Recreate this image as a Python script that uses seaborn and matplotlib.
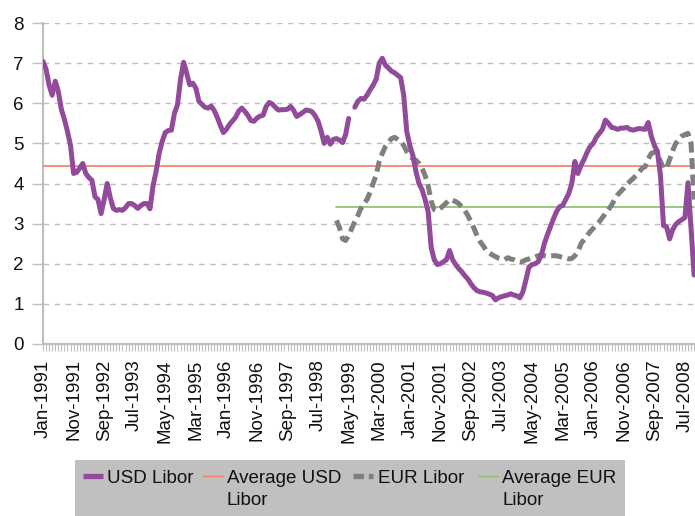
import numpy as np
import pandas as pd
import matplotlib
matplotlib.use("Agg")
import matplotlib.pyplot as plt
from matplotlib.lines import Line2D
from matplotlib.patches import Rectangle
import seaborn as sns

nan = np.nan

# Monthly values, Jan-1991 .. Oct-2008
usd_libor = [
    # 1991
    7.04, 6.85, 6.45, 6.20, 6.55, 6.30, 5.85, 5.60, 5.30, 4.95, 4.25, 4.28,
    # 1992
    4.38, 4.50, 4.25, 4.15, 4.08, 3.67, 3.60, 3.25, 3.60, 4.00, 3.65, 3.38,
    # 1993
    3.33, 3.35, 3.33, 3.40, 3.50, 3.50, 3.45, 3.38, 3.45, 3.50, 3.50, 3.37,
    # 1994
    3.95, 4.30, 4.75, 5.05, 5.27, 5.32, 5.33, 5.75, 5.96, 6.60, 7.02, 6.75,
    # 1995
    6.46, 6.50, 6.38, 6.05, 5.97, 5.90, 5.88, 5.93, 5.82, 5.65, 5.45, 5.27,
    # 1996
    5.35, 5.47, 5.56, 5.65, 5.80, 5.88, 5.80, 5.70, 5.57, 5.55, 5.63, 5.68,
    # 1997
    5.70, 5.92, 6.02, 5.98, 5.90, 5.83, 5.84, 5.84, 5.85, 5.92, 5.82, 5.67,
    # 1998
    5.72, 5.77, 5.83, 5.82, 5.79, 5.69, 5.55, 5.30, 5.00, 5.15, 4.98, 5.10,
    # 1999
    5.12, 5.08, 5.02, 5.22, 5.62, nan, 5.90, 6.05, 6.12, 6.10, 6.20, 6.33,
    # 2000
    6.45, 6.60, 7.00, 7.12, 6.95, 6.88, 6.80, 6.76, 6.70, 6.64, 6.20, 5.30,
    # 2001
    4.95, 4.70, 4.30, 4.00, 3.85, 3.60, 3.30, 2.40, 2.10, 1.98, 2.00, 2.05,
    # 2002
    2.10, 2.33, 2.10, 1.98, 1.88, 1.80, 1.70, 1.62, 1.50, 1.40, 1.33, 1.30,
    # 2003
    1.29, 1.27, 1.24, 1.21, 1.10, 1.15, 1.18, 1.20, 1.22, 1.25, 1.22, 1.20,
    # 2004
    1.15, 1.30, 1.60, 1.92, 1.98, 2.00, 2.05, 2.20, 2.50, 2.72, 2.92, 3.12,
    # 2005
    3.30, 3.42, 3.45, 3.60, 3.75, 4.00, 4.55, 4.25, 4.45, 4.60, 4.78, 4.92,
    # 2006
    5.00, 5.15, 5.25, 5.35, 5.58, 5.50, 5.40, 5.38, 5.35, 5.38, 5.38, 5.40,
    # 2007
    5.35, 5.33, 5.35, 5.37, 5.36, 5.35, 5.52, 5.18, 4.95, 4.80, 4.20, 2.95,
    # 2008
    2.92, 2.62, 2.85, 2.98, 3.05, 3.10, 3.15, 4.02, 2.90, 1.72,
]

eur_libor = [nan] * 96 + [
    # 1999
    3.08, 2.90, 2.62, 2.58, 2.70, 2.88, 3.05, 3.20, 3.38, 3.50, 3.60, 3.78,
    # 2000
    4.00, 4.22, 4.55, 4.75, 4.92, 5.02, 5.12, 5.15, 5.10, 5.04, 4.95, 4.80,
    # 2001
    4.68, 4.62, 4.58, 4.50, 4.38, 4.20, 3.95, 3.55, 3.35, 3.32, 3.38, 3.45,
    # 2002
    3.52, 3.60, 3.58, 3.55, 3.50, 3.42, 3.33, 3.20, 3.05, 2.88, 2.70, 2.55,
    # 2003
    2.45, 2.33, 2.27, 2.22, 2.18, 2.14, 2.12, 2.10, 2.15, 2.12, 2.10, 2.06,
    # 2004
    2.04, 2.06, 2.10, 2.12, 2.15, 2.17, 2.20, 2.22, 2.20, 2.18, 2.20, 2.20,
    # 2005
    2.20, 2.18, 2.16, 2.14, 2.12, 2.13, 2.20, 2.30, 2.50, 2.60, 2.70, 2.80,
    # 2006
    2.88, 2.97, 3.05, 3.15, 3.25, 3.35, 3.46, 3.60, 3.72, 3.80, 3.88, 3.98,
    # 2007
    4.05, 4.12, 4.20, 4.28, 4.38, 4.42, 4.62, 4.75, 4.78, 4.72, 4.55, 4.38,
    # 2008
    4.38, 4.60, 4.82, 5.00, 5.10, 5.18, 5.22, 5.25, 5.00, 3.60,
]

avg_usd_value = 4.43
avg_eur_value = 3.42
eur_start_month = 96

tick_labels = ["Jan-1991", "Nov-1991", "Sep-1992", "Jul-1993", "May-1994",
               "Mar-1995", "Jan-1996", "Nov-1996", "Sep-1997", "Jul-1998",
               "May-1999", "Mar-2000", "Jan-2001", "Nov-2001", "Sep-2002",
               "Jul-2003", "May-2004", "Mar-2005", "Jan-2006", "Nov-2006",
               "Sep-2007", "Jul-2008"]
tick_step = 10

series_names = ["USD Libor", "Average USD\nLibor", "EUR Libor", "Average EUR\nLibor"]

n = len(usd_libor)
month = np.arange(n)
usd_arr = np.array(usd_libor, dtype=float)
df = pd.DataFrame({
    "month": month,
    "usd": usd_arr,
    # segment id so that a missing month leaves a gap in the line
    "usd_seg": np.cumsum(np.isnan(usd_arr)),
    "eur": eur_libor,
    "avg_usd": [avg_usd_value] * n,
    "avg_eur": [nan if m < eur_start_month else avg_eur_value for m in month],
})

c_usd = "#924A9B"
c_avg_usd = "#F47B5E"
c_eur = "#7F7F7F"
c_avg_eur = "#8CBF6A"
grid_c = "#BFBFBF"
eur_dash = (0, (2.2, 1.1))

sns.set_theme(style="white")
plt.rcParams["font.family"] = ["Liberation Sans", "DejaVu Sans"]

W, H = 695, 516
fig = plt.figure(figsize=(W / 100, H / 100), dpi=100)
ax = fig.add_axes([43 / W, 1 - 344 / H, 1 - 43 / W, (344 - 23) / H])

sns.lineplot(data=df, x="month", y="avg_usd", ax=ax, color=c_avg_usd, lw=1.2, zorder=3)
sns.lineplot(data=df, x="month", y="avg_eur", ax=ax, color=c_avg_eur, lw=1.2, zorder=3)
sns.lineplot(data=df, x="month", y="eur", ax=ax, color=c_eur, lw=3.6, zorder=4,
             linestyle=eur_dash)
sns.lineplot(data=df.dropna(subset=["usd"]), x="month", y="usd", units="usd_seg",
             estimator=None, ax=ax, color=c_usd, lw=3.6, zorder=5)

ax.set_xlim(0, 213.3)
ax.set_ylim(0, 8)
ax.set_xlabel("")
ax.set_ylabel("")

ax.set_yticks(range(0, 9))
ax.yaxis.grid(True, color=grid_c, linestyle=(0, (4, 4)), lw=1.0)
ax.xaxis.grid(False)

ticks = np.arange(0, n, tick_step)[:len(tick_labels)]
ax.set_xticks(ticks)
ax.set_xticklabels(tick_labels, rotation=90, fontsize=13.5, color="#111111")
ax.set_xticks(month, minor=True)
ax.tick_params(axis="x", which="both", length=5, width=0.8, color=grid_c,
               direction="out", bottom=True, pad=6)
ax.tick_params(axis="y", length=8, width=1.0, color=grid_c, labelsize=13.5,
               labelcolor="#111111", left=True, pad=6)

for s in ["top", "right"]:
    ax.spines[s].set_visible(False)
ax.spines["left"].set_color(grid_c)
ax.spines["left"].set_linewidth(1.6)
ax.spines["bottom"].set_color(grid_c)
ax.spines["bottom"].set_linewidth(1.6)

# Legend box drawn in figure pixel coordinates
def fx(px):
    return px / W

def fy(py):
    return 1 - py / H

fig.patches.append(Rectangle((fx(75), fy(516)), fx(625) - fx(75), fy(460) - fy(516),
                             transform=fig.transFigure, facecolor="#C0C0C0",
                             edgecolor="none", zorder=0))
handle_y = 476
entries = [
    (83, 107, dict(color=c_usd, lw=3.8, solid_capstyle="butt")),
    (203, 227, dict(color=c_avg_usd, lw=1.0)),
    (353, 378, dict(color=c_eur, lw=3.8, linestyle=(0, (2.0, 0.9)))),
    (478, 502, dict(color=c_avg_eur, lw=1.0)),
]
for (hx, tx, style), name in zip(entries, series_names):
    fig.lines.append(Line2D([fx(hx), fx(hx + 20)], [fy(handle_y), fy(handle_y)],
                            transform=fig.transFigure, **style))
    fig.text(fx(tx), fy(470), name, ha="left", va="top", fontsize=13.5,
             color="#111111", linespacing=1.42)

fig.savefig("out.png", dpi=100)
